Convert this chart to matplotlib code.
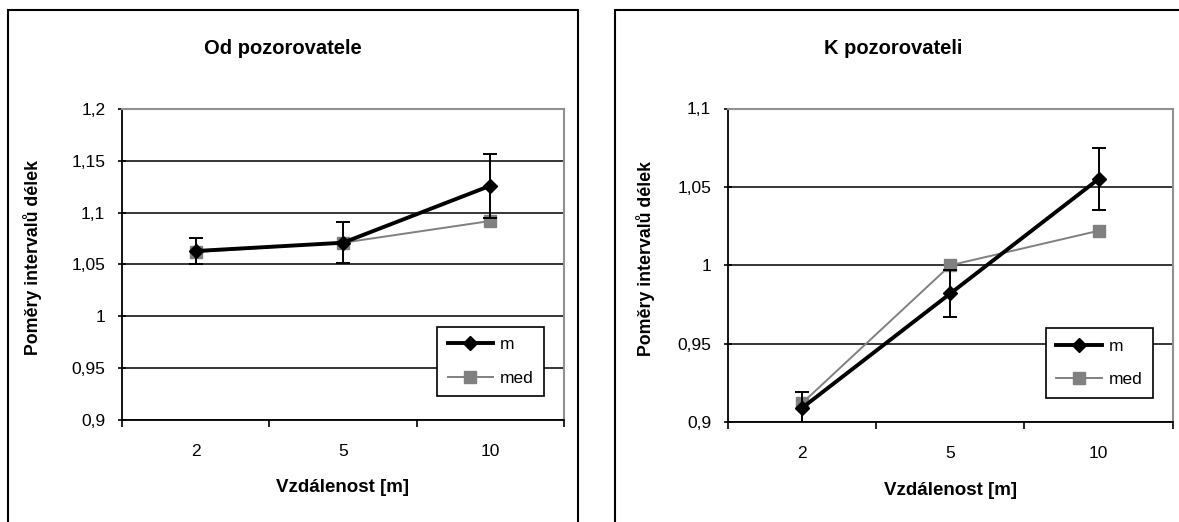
import matplotlib
matplotlib.use('Agg')
import matplotlib.pyplot as plt
from matplotlib.patches import Rectangle

# data
distances = ['2', '5', '10']

od_m = [1.063, 1.071, 1.126]
od_m_err = [0.013, 0.020, 0.031]
od_med = [1.062, 1.071, 1.092]

k_m = [0.909, 0.982, 1.055]
k_m_err = [0.010, 0.015, 0.020]
k_med = [0.912, 1.000, 1.022]

y_ticks_od = [0.9, 0.95, 1.0, 1.05, 1.1, 1.15, 1.2]
y_ticks_k = [0.9, 0.95, 1.0, 1.05, 1.1]

W, H = 1179, 522
plt.rcParams['font.family'] = ['Liberation Sans', 'DejaVu Sans']


def fmt(v):
    s = ('%.2f' % v).rstrip('0').rstrip('.')
    return s.replace('.', ',')


def panel(fig, rect, title, title_xy, ylab_x, m, m_err, med, yticks):
    ax = fig.add_axes(rect)
    x = list(range(len(distances)))
    ax.plot(x, med, color='#808080', lw=1.4, marker='s', ms=8,
            mec='#808080', mfc='#808080', label='med', zorder=3)
    ax.plot(x, m, color='black', lw=2.8, marker='D', ms=7,
            mec='black', mfc='black', label='m', zorder=4)
    ax.errorbar(x, m, yerr=m_err, fmt='none', ecolor='black', elinewidth=1.4,
                capsize=5, capthick=1.4, zorder=5)

    ax.set_xlim(-0.5, len(distances) - 0.5)
    ax.set_ylim(yticks[0], yticks[-1])
    ax.set_xticks([i - 0.5 for i in range(len(distances) + 1)])
    ax.set_xticklabels([])
    ax.set_xticks(x, minor=True)
    ax.set_xticklabels(distances, minor=True)
    ax.tick_params(axis='x', which='major', direction='out', length=5, width=1.2)
    ax.tick_params(axis='x', which='minor', length=0, pad=17, labelsize=12.5)
    ax.set_yticks(yticks)
    ax.set_yticklabels([fmt(v) for v in yticks])
    ax.tick_params(axis='y', direction='inout', length=6, width=1.2, pad=9,
                   labelsize=12.5)

    ax.yaxis.grid(True, color='black', lw=1.1)
    ax.set_axisbelow(True)
    for s in ('left', 'bottom'):
        ax.spines[s].set_color('black')
        ax.spines[s].set_linewidth(1.3)
    for s in ('top', 'right'):
        ax.spines[s].set_color('#909090')
        ax.spines[s].set_linewidth(1.5)

    ax.set_xlabel('Vzdálenost [m]', fontsize=13.5, fontweight='bold')
    ax.xaxis.set_label_coords(0.5, -0.19)
    ax.set_ylabel('Poměry intervalů délek', fontsize=12.8, fontweight='bold')
    ax.yaxis.set_label_coords(ylab_x, 0.523)

    handles, labels = ax.get_legend_handles_labels()
    leg = ax.legend(handles[::-1], labels[::-1], loc='lower right',
                    bbox_to_anchor=(0.955, 0.077), frameon=True, fancybox=False,
                    edgecolor='black', framealpha=1, fontsize=12.5,
                    handlelength=2.6, borderpad=0.6, labelspacing=1.05,
                    handletextpad=0.4, borderaxespad=0)
    leg.get_frame().set_linewidth(1.2)

    fig.text(title_xy[0] / W, 1 - title_xy[1] / H, title, ha='center',
             va='center', fontsize=14.5, fontweight='bold')
    return ax


def main():
    fig = plt.figure(figsize=(W / 100, H / 100), dpi=100)

    # chart frames
    fig.add_artist(Rectangle((8 / W, -0.05), 570 / W, 1.05 - 10 / H,
                             transform=fig.transFigure, fill=False,
                             edgecolor='black', lw=1.5))
    fig.add_artist(Rectangle((615 / W, -0.05), 600 / W, 1.05 - 10 / H,
                             transform=fig.transFigure, fill=False,
                             edgecolor='black', lw=1.5))

    panel(fig, [122 / W, 1 - 420 / H, 442 / W, 311 / H], 'Od pozorovatele',
          (283, 48), -0.181, od_m, od_m_err, od_med, y_ticks_od)
    panel(fig, [728 / W, 1 - 422 / H, 444.7 / W, 313.5 / H], 'K pozorovateli',
          (893, 48), -0.164, k_m, k_m_err, k_med, y_ticks_k)

    fig.savefig('out.png', dpi=100)


if __name__ == '__main__':
    main()
